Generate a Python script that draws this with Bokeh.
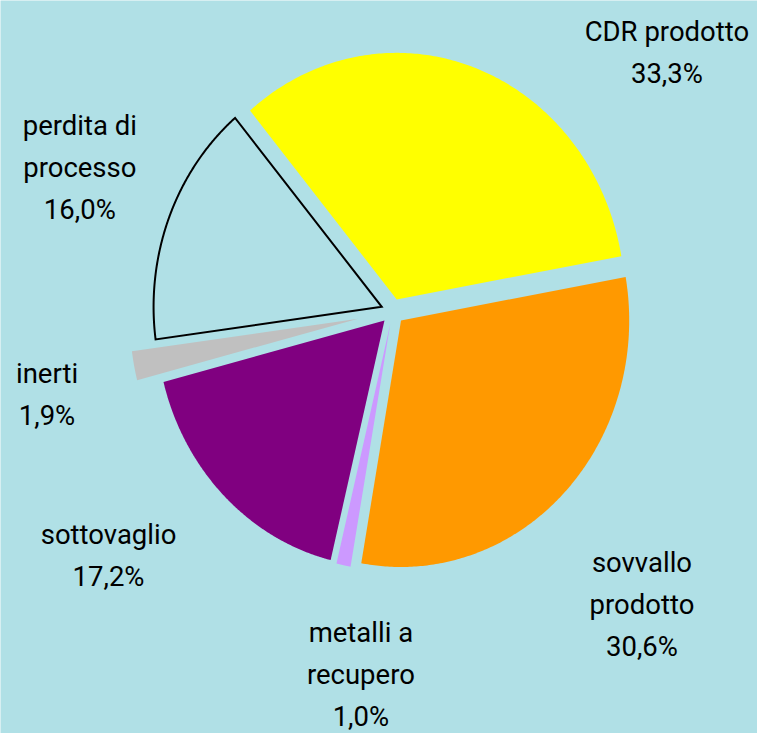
import numpy as np
from bokeh.plotting import figure
from bokeh.models import Range1d, ColumnDataSource
from bokeh.core.properties import value
from bokeh.embed import file_html
from bokeh.resources import INLINE

# ---- data ----
categories = ["CDR prodotto", "sovvallo prodotto", "metalli a recupero",
              "sottovaglio", "inerti", "perdita di processo"]
name_lines = [["CDR prodotto"], ["sovvallo", "prodotto"], ["metalli a", "recupero"],
              ["sottovaglio"], ["inerti"], ["perdita di", "processo"]]
shares = [33.3, 30.6, 1.0, 17.2, 1.9, 16.0]

# ---- styles ----
fill_colors = ["#FFFF00", "#FF9900", "#CC99FF", "#800080", "#C0C0C0", "#B0E0E6"]
fill_alphas = [1, 1, 1, 1, 1, 0]
line_alphas = [0, 0, 0, 0, 0, 1]
explode_px = [12, 12, 12, 12, 36, 12]
BG = "#B0E0E6"
FONT = "Roboto"
FONT_SIZE = "27.5px"

# ---- layout (reference-image pixels, 773 x 749, scaled into the figure) ----
CX, CY = 400.5, 317.7      # pie centre
RX, RY = 233.0, 252.0      # horizontal / vertical radius
START_DEG = 130.0          # first slice starts here, clockwise
LINE_STEP = 43.0
TEXT_SHIFT = -10.0         # baseline correction
label_anchor = [(680.5, 41.5), (655, 584), (368, 656), (110.3, 556), (47.5, 391), (81, 138)]

def to_dx(px):
    return (px - CX) / RX

def to_dy(py):
    return (CY - py) / RY

# ---- slices ----
total = sum(shares)
xs, ys = [], []
a0 = np.deg2rad(START_DEG)
for s, ex in zip(shares, explode_px):
    span = 2 * np.pi * s / total
    a1 = a0 - span
    mid = (a0 + a1) / 2
    d = ex / RX
    ox, oy = d * np.cos(mid), d * np.sin(mid)
    t = np.linspace(a0, a1, 200)
    xs.append(list(np.concatenate([[ox], ox + np.cos(t)])))
    ys.append(list(np.concatenate([[oy], oy + np.sin(t)])))
    a0 = a1

src = ColumnDataSource(dict(xs=xs, ys=ys, fc=fill_colors, fa=fill_alphas, la=line_alphas))

p = figure(width=757, height=733, output_backend="svg", toolbar_location=None,
           x_axis_type=None, y_axis_type=None,
           x_range=Range1d(to_dx(0), to_dx(773)),
           y_range=Range1d(to_dy(749), to_dy(0)),
           min_border=0, background_fill_color=BG, border_fill_color=BG,
           outline_line_color=None)

p.patches("xs", "ys", source=src, fill_color="fc", fill_alpha="fa",
          line_color="black", line_alpha="la", line_width=2, line_join="miter")

# ---- labels ----
tx, ty, tt = [], [], []
for lines, s, (ax, ay) in zip(name_lines, shares, label_anchor):
    all_lines = lines + [f"{s:.1f}%".replace(".", ",")]
    for i, ln in enumerate(all_lines):
        tx.append(to_dx(ax))
        ty.append(to_dy(ay + TEXT_SHIFT + i * LINE_STEP))
        tt.append(ln)

p.text(x=tx, y=ty, text=tt, text_font=value(FONT), text_font_size=FONT_SIZE,
       text_align="center", text_baseline="alphabetic", text_color="black")

open("out.html", "w").write(file_html(p, INLINE))
